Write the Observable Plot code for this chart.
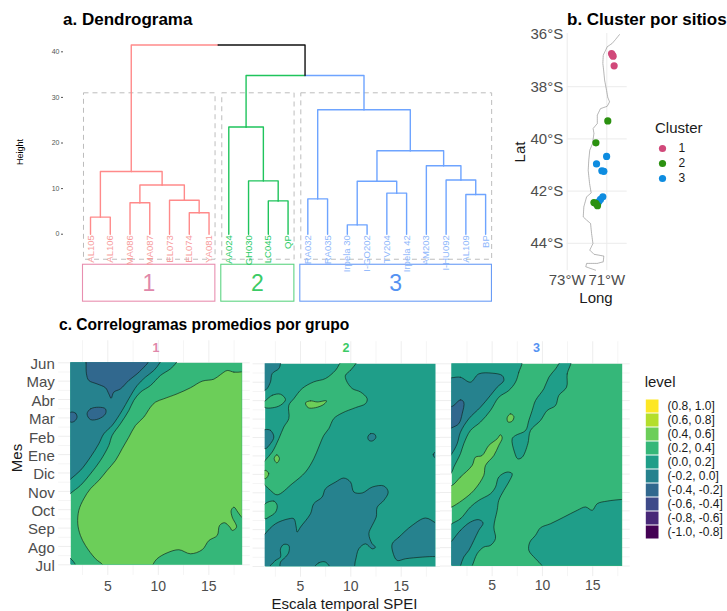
<!DOCTYPE html>
<html>
<head>
<meta charset="utf-8">
<script src="https://cdn.jsdelivr.net/npm/d3@7"></script>
<script src="https://cdn.jsdelivr.net/npm/@observablehq/plot@0.6"></script>
<style>
html,body{margin:0;padding:0;background:#fff}
#root{position:relative;width:727px;height:611px;overflow:hidden;font-family:"Liberation Sans",Arial,sans-serif}
.t{position:absolute;white-space:nowrap;line-height:1}
svg{position:absolute;background:transparent!important}
</style>
</head>
<body>
<div id="root"></div>
<script>
// ---------- Dendrogram data ----------
const leaves = ["AL105","AL106","MA086","MA087","EL073","EL074","YA081","AA024","GH030","LC045","QP","RA032","RA035","Irpela 30","I-GO202","TV204","Irpela 42","AM203","I-HU092","AL109","BP"];
const leafCluster = [1,1,1,1,1,1,1,2,2,2,2,3,3,3,3,3,3,3,3,3,3];
const merges = [
  ["AL105","AL106",3.75,"n1"],["MA086","MA087",6.9,"n2"],["EL074","YA081",4.7,"n3"],
  ["EL073","n3",7.45,"n4"],["n2","n4",10.8,"n5"],["n1","n5",13.75,"n6"],
  ["LC045","QP",7.3,"n7"],["GH030","n7",11.7,"n8"],["AA024","n8",23.5,"n9"],
  ["RA032","RA035",7.75,"n10"],["Irpela 30","I-GO202",2.05,"n11"],["TV204","Irpela 42",9.0,"n12"],
  ["n11","n12",11.6,"n13"],["AL109","BP",8.7,"n14"],["I-HU092","n14",11.9,"n15"],
  ["AM203","n15",15,"n16"],["n13","n16",18.3,"n17"],["n10","n17",27.3,"n18"],
  ["n9","n18",34.8,"n19"],["n6","n19",41.5,"root"]
];
const branchColors = {1:"#ff8a8a",2:"#1fc45c",3:"#6ea4ff",0:"#111111"};
const leafColors = {1:"#f79c9c",2:"#2ccb68",3:"#8fb7fb"};
const boxColors = {1:"#e88fb0",2:"#5ed483",3:"#6a9cf6"};
const numColors = {1:"#e088aa",2:"#3ccb66",3:"#5592f2"};
const clusterIds = ["1","2","3"];
const clusterFirst = ["AL105","AA024","RA032"];
const clusterLast = ["YA081","QP","BP"];

// ---------- Map data ----------
const coastLon = [-70.36,-70.56,-70.73,-70.98,-71.06,-71.18,-71.2,-71.16,-71.11,-71.01,-70.95,-70.86,-70.98,-71.32,-71.48,-71.48,-71.69,-71.65,-71.72,-71.86,-71.91,-71.94,-71.87,-71.79,-72.02,-72.16,-72.19,-72.02,-71.82,-71.77,-71.7,-71.86,-71.65,-71.15,-71.18,-71.48,-72.02,-72.06,-71.57];
const coastLat = [-36,-36.19,-36.34,-36.47,-36.6,-36.79,-37.11,-37.37,-37.75,-38.15,-38.41,-38.58,-38.75,-38.84,-39.09,-39.41,-39.6,-39.79,-40.18,-40.43,-40.81,-41.2,-41.71,-42.07,-42.22,-42.6,-42.99,-43.11,-43.24,-43.62,-44.01,-44.26,-44.42,-44.49,-44.71,-44.77,-44.77,-44.9,-45.03];
const siteLon = [-70.76,-70.72,-70.68,-70.63, -71.01,-71.52,-71.25,-71.15,-71.2,-71.32,-71.4, -70.95,-71.55,-71.65,-71.55,-71.47];
const siteLat = [-36.73,-36.78,-36.83,-37.2, -40.67,-40.96,-41.22,-41.24,-42.22,-42.32,-42.4, -39.31,-40.15,-42.44,-42.47,-42.56];
const siteCluster = [1,1,1,1, 3,3,3,3,3,3,3, 2,2,2,2,2];
const siteColors = {1:"#d1497a",2:"#2b9110",3:"#0e8ce0"};

// ---------- Correlogram data ----------
const months = ["Jul","Ago","Sep","Oct","Nov","Dic","Ene","Feb","Mar","Abr","May","Jun"];
const levelLabels = ["(0.8, 1.0]","(0.6, 0.8]","(0.4, 0.6]","(0.2, 0.4]","(0.0, 0.2]","(-0.2, 0.0]","(-0.4, -0.2]","(-0.6, -0.4]","(-0.8, -0.6]","(-1.0, -0.8]"];
const levelColors = ["#FDE725","#B4DE2C","#6CCE59","#35B779","#1F9E89","#26828E","#31688E","#3E4A89","#482878","#440154"];
const L46 = "#6CCE59", L24 = "#35B779", L02 = "#1F9E89", Ln20 = "#26828E", Ln42 = "#31688E";

const p1Band46 = [[18.3,11.51],[17.48,11.49],[16.82,11.58],[16.16,11.36],[15.5,11.11],[14.34,11],[13.18,10.64],[11.86,10.31],[10.54,10.04],[9.72,9.86],[9.22,9.58],[8.56,9.04],[7.74,8.59],[7.08,7.95],[6.42,7.32],[5.76,6.68],[4.93,6.14],[4.11,5.59],[3.28,5.14],[2.62,4.59],[2.13,3.96],[2.03,3.23],[2.29,2.6],[2.79,2.05],[3.78,1.33],[4.5,1],[4.7,0.7],[9.3,0.7],[9.46,1],[9.88,1.33],[10.87,1.65],[12.03,1.82],[13.18,1.6],[14.34,1.82],[15,2.32],[15.83,2.6],[16.06,3.14],[16.55,3.29],[17.08,3.05],[17.31,2.87],[17.74,3.05],[17.31,3.6],[17.21,3.96],[17.48,4.14],[17.87,3.87],[18.3,3.56],[19,3.3],[19,11.6]];
const p1Band02 = [[12,12.3],[11.77,12],[11.2,11.67],[10.21,11.31],[9.22,10.76],[8.23,10.4],[7.57,9.95],[7.08,9.4],[6.25,8.68],[5.43,8.04],[5.1,7.5],[4.27,6.68],[3.28,5.95],[2.29,5.32],[1.34,4.9],[0.8,4.6],[0.8,12.3]];
const p1Corner = [[0.8,1.5],[1.34,1.33],[1.8,1],[1.9,0.7],[0.8,0.7]];
const p1Bandn20 = [[10.4,12.3],[10.15,12],[9.55,11.58],[8.73,11.22],[7.9,10.76],[7.08,10.04],[6.42,9.4],[5.43,8.59],[4.6,8.13],[4.11,7.59],[3.28,6.86],[2.29,6.14],[1.34,5.68],[0.8,5.4],[0.8,12.3]];
const p1Top = [[2.8,12.3],[2.85,12],[2.89,11.4],[3.12,11.04],[3.94,10.85],[4.77,10.64],[5.1,10.31],[5.33,10.07],[5.59,10.4],[6.25,10.58],[7.08,11.04],[7.9,11.4],[8.73,11.85],[8.96,12],[9.1,12.3]];
const p1Blob = [[2.95,9.22],[3.28,9.49],[4.11,9.58],[4.77,9.49],[4.77,9.22],[4.11,8.95],[3.28,8.91]];
const p1Left = [[1.34,9.31],[1.8,9.26],[1.96,9.04],[1.7,8.82],[1.34,8.77],[0.9,9]];

const p2Main = [[10.63,12.2],[9.97,11.65],[9.47,11.38],[9.54,11.11],[10.13,10.66],[10.96,10.47],[11.62,10.11],[11.46,9.84],[10.46,9.62],[9.14,9.33],[8.31,9.03],[7.81,8.48],[7.32,8.12],[6.82,7.49],[6.32,6.85],[5.5,6.13],[4.17,5.49],[2.68,4.89],[2.02,5.13],[1.49,5.4],[1,5.7],[1,6.4],[1.49,6.76],[2.19,7.21],[2.85,7.94],[3.34,8.57],[3.84,9.03],[3.84,9.75],[4.34,10.11],[5.17,10.66],[6.32,11.02],[7.48,11.2],[8.48,11.65],[9.21,12.2]];
const p2LeftTop = [[1.49,9.99],[2.19,10.29],[3.01,10.35],[3.51,10.06],[3.01,9.75],[2.19,9.61],[1.49,9.62],[1,9.8]];
const p2LeftLow = [[1.49,4.41],[2.35,4.55],[2.68,4.32],[2.52,3.95],[1.85,3.68],[1.49,3.59],[1,3.9]];
const p2CornerTop = [[1,12.3],[3.1,12.3],[3.01,12],[2.85,11.74],[2.19,11.47],[2.02,11.02],[1.69,10.66],[1.49,10.57],[1,10.5]];
const p2LeftMid = [[1.49,8.43],[2.02,8.39],[2.35,8.03],[2.02,7.67],[1.49,7.39],[1,7.6],[1,8.3]];
const p2Spot = [[11.69,8.03],[11.95,8.21],[12.38,8.17],[12.48,7.99],[12.12,7.81],[11.79,7.85]];
const p2Right = [[18.41,7.21],[18.18,7.07],[18.41,6.89],[19,7.05]];
const p2Bright = [[5.5,9.88],[5.99,9.99],[6.66,9.93],[7.58,9.99],[7.32,9.8],[6.49,9.62],[5.76,9.62]];
const p2Oval = [[2.38,6.85],[2.65,7.07],[2.91,6.85],[2.65,6.62]];
const p2Edge = [[1.49,6.22],[1.85,6.04],[1.49,5.76],[1,6]];
const p2Low = [[1,2.4],[1.49,2.78],[2.52,3.32],[3.84,3.59],[4.34,3.59],[4.57,3.14],[4.67,2.87],[5,3.14],[5.99,3.86],[6.32,4.41],[7.15,4.77],[7.48,5.22],[8.48,5.58],[9.3,5.8],[9.97,5.58],[10.3,5.04],[11.13,4.99],[12.12,5.31],[13.28,5.37],[13.71,5.04],[13.28,4.59],[12.62,4.22],[12.52,3.68],[12.12,3.23],[11.79,2.78],[12.12,2.23],[12.45,2.05],[12.12,1.96],[11.46,2.23],[10.79,1.96],[10.46,1.33],[10.13,0.8],[1,0.8]];
const p2Hole1 = [[1.6,0.7],[2.52,1.33],[3.01,1.51],[3.01,1.96],[3.34,2.2],[3.84,2.14],[3.84,1.78],[3.51,1.51],[3.01,1.24],[2.85,0.7]];
const p2Hole2 = [[6.2,0.8],[6.82,1.2],[7.48,1.24],[8,0.8]];
const p2LowRight = [[14.11,2.23],[14.77,2.59],[16.09,3.23],[17.42,3.63],[18.41,3.37],[19,3.2],[19,1.5],[18.41,1.54],[17.09,1.51],[15.43,1.42],[14.6,1.33],[14.17,1.78]];

const p3UpperLeft = [[7.9,12.2],[7.65,11.54],[7.32,11],[6.66,10.55],[5.66,10.18],[4.83,9.46],[3.84,8.83],[2.84,8.37],[2.18,7.65],[1.85,7.11],[1.19,6.38],[0.99,6.11],[0.5,5.8],[0.5,12.3]];
const p3LowerLeft = [[0.99,3.3],[1.85,3.57],[2.84,4.21],[3.67,4.57],[4.83,4.93],[5.33,5.29],[5.66,5.84],[6.49,6.11],[6.99,6.02],[6.66,5.57],[6.16,5.11],[5.66,4.57],[5.5,4.03],[5.17,3.12],[5.33,2.49],[4.83,2.12],[4.17,2.03],[3.51,1.67],[3.01,1],[2.7,0.7],[0.5,0.7],[0.5,3.1]];
const p3LowerDark = [[0.99,2.36],[1.85,2.94],[2.84,3.39],[3.67,3.52],[4.1,3.34],[3.67,2.94],[3.18,2.39],[2.68,1.85],[2.18,1.49],[1.85,1],[1.7,0.7],[0.5,0.7],[0.5,2.1]];
const p3Strip = [[12.85,12.2],[12.46,11.45],[12.4,10.73],[11.63,10.28],[11.3,9.73],[10.47,9.46],[9.81,8.92],[8.81,8.37],[8.55,7.65],[7.99,6.92],[7.55,6.83],[7.22,7.2],[6.99,7.92],[7.32,8.1],[8.32,8.37],[8.65,8.92],[8.98,9.46],[9.31,10],[10.14,10.64],[10.64,11.27],[11.3,11.72],[11.97,12.2]];
const p3BottomRight = [[18.5,4.62],[17.93,4.62],[16.44,4.53],[15.45,4.39],[14.95,4.03],[14.29,4.21],[13.46,4.03],[12.13,3.66],[10.8,3.3],[9.81,3.08],[9.31,2.67],[8.75,2.3],[8.65,1.85],[9.31,1.4],[9.98,1],[10.2,0.7],[18.5,0.7]];
const p3TopDark = [[0.99,11.24],[1.85,11.27],[2.84,11],[3.67,11.45],[5,11.49],[6,11.36],[6.16,11.09],[5.5,10.73],[4.83,10.28],[3.84,9.64],[2.68,9.01],[1.85,8.28],[1.52,7.65],[0.99,7.11],[0.5,6.8],[0.5,11.2]];
const p3Inner = [[0.99,9.68],[1.85,10.04],[2.18,9.91],[2.02,9.28],[1.68,8.74],[0.99,8.52],[0.5,8.4],[0.5,9.8]];
const p3Bright = [[0.99,5.38],[1.85,5.84],[3.01,6.47],[3.34,6.92],[4,7.01],[4.67,7.56],[5.5,7.92],[5.83,8.14],[6,7.97],[5.66,7.56],[5.17,7.01],[4.34,6.47],[4.17,5.93],[3.18,5.11],[2.02,4.57],[0.99,4.21],[0.5,4.1],[0.5,5.4]];
const p3Spot = [[6.49,9.06],[6.82,9.28],[7.16,9.13],[6.99,8.88],[6.59,8.83]];

const panel1Layers = [[p1Band46,L46],[p1Band02,L02],[p1Corner,L02],[p1Bandn20,Ln20],[p1Top,Ln42],[p1Blob,Ln42],[p1Left,Ln42]];
const panel2Layers = [[p2Main,L24],[p2LeftTop,L24],[p2LeftLow,L24],[p2CornerTop,Ln20],[p2LeftMid,Ln20],[p2Spot,Ln20],[p2Right,Ln20],[p2Bright,L46],[p2Oval,L46],[p2Edge,L46],[p2Low,Ln20],[p2Hole1,L02],[p2Hole2,L02],[p2LowRight,Ln20]];
const panel3Layers = [[p3UpperLeft,L02],[p3LowerLeft,L02],[p3LowerDark,Ln20],[p3Strip,L02],[p3BottomRight,L02],[p3TopDark,Ln20],[p3Inner,Ln42],[p3Bright,L46],[p3Spot,L46]];

const xMajor = [5,10,15];
const xMinor = [2.5,7.5,12.5,17.5];
const yMinor = [1.5,2.5,3.5,4.5,5.5,6.5,7.5,8.5,9.5,10.5,11.5];
const yMajor = [1,2,3,4,5,6,7,8,9,10,11,12];

// ---------- Helpers ----------
const root = document.getElementById("root");
const FONT = '"Liberation Sans",Arial,sans-serif';
function place(svg, left, top){ svg.style.left = left+"px"; svg.style.top = top+"px"; root.appendChild(svg); }
function label(text, cx, cy, size, opt={}){
  const d = document.createElement("div");
  d.className = "t"; d.textContent = text;
  d.style.fontSize = size+"px";
  d.style.color = opt.color || "#1a1a1a";
  d.style.fontWeight = opt.bold ? "bold" : "normal";
  if (opt.left) { d.style.left = cx+"px"; d.style.top = (cy-size/2)+"px"; }
  else { d.style.left = cx+"px"; d.style.top = cy+"px"; d.style.transform = `translate(-50%,-50%)${opt.rot?" rotate(-90deg)":""}`; }
  root.appendChild(d);
}
const style = {fontFamily:FONT, background:"transparent"};

// ---------- a. Dendrogram ----------
const nodeX = new Map(leaves.map((d,i)=>[d,i+1]));
const nodeH = new Map(leaves.map(d=>[d,0]));
const nodeC = new Map(leaves.map((d,i)=>[d,leafCluster[i]]));
const elbows = [];
for (const [a,b,h,id] of merges){
  const xm = (nodeX.get(a)+nodeX.get(b))/2;
  for (const child of [a,b]){
    const k = id+"-"+child, c = nodeC.get(child);
    elbows.push({k,c,x:nodeX.get(child),h:nodeH.get(child)},{k,c,x:nodeX.get(child),h},{k,c,x:xm,h});
  }
  nodeX.set(id,xm); nodeH.set(id,h);
  nodeC.set(id, nodeC.get(a)===nodeC.get(b) ? nodeC.get(a) : 0);
}
const leafRows = leaves.map((name,i)=>({name,x:i+1,c:leafCluster[i]}));
const boxes = clusterIds.map((id,i)=>({id,c:+id,a:leaves.indexOf(clusterFirst[i])+1,b:leaves.indexOf(clusterLast[i])+1}));

place(Plot.plot({
  width:510,height:310,marginLeft:63,marginRight:15,marginTop:42.2,marginBottom:7.9,
  style,
  x:{domain:[-0.367,21.5],axis:null},
  y:{domain:[-15,42]},
  color:{type:"identity"},
  marks:[
    Plot.axisY({ticks:[0,10,20,30,40],tickSize:2,tickPadding:2,fontSize:7,color:"#555",label:null}),
    Plot.rect(boxes,{x1:d=>d.a-0.33,x2:d=>d.b+0.33,y1:-5.6,y2:30.9,fill:"none",stroke:"#bdbdbd",strokeDasharray:"5,4",strokeWidth:1}),
    Plot.line(elbows,{x:"x",y:"h",z:"k",stroke:d=>branchColors[d.c],strokeWidth:1.4,curve:"linear"}),
    Plot.rect(boxes,{x1:d=>d.a-0.38,x2:d=>d.b+0.32,y1:-14.8,y2:-6.7,fill:"none",stroke:d=>boxColors[d.c],strokeWidth:1.1}),
    Plot.text(boxes,{x:d=>(d.a+d.b)/2-0.05,y:-10.75,text:"id",fill:d=>numColors[d.c],fontSize:23}),
    Plot.text(leafRows,{x:"x",y:0,text:"name",rotate:-90,textAnchor:"end",dy:1,fontSize:9.5,fill:d=>leafColors[d.c]})
  ]
}),0,0);
label("a. Dendrograma",63,19.5,17,{bold:true,left:true,color:"#000"});
label("Height",20,152,9,{rot:true,color:"#000"});

// ---------- b. Map ----------
const coast = coastLon.map((lon,i)=>({lon,lat:coastLat[i]}));
const sites = siteLon.map((lon,i)=>({lon,lat:siteLat[i],c:siteCluster[i]}));
place(Plot.plot({
  width:140,height:310,marginLeft:56.7,marginRight:23.3,marginTop:33,marginBottom:39.8,
  style,
  x:{domain:[-73,-69.97]},
  y:{domain:[-45.05,-35.96]},
  color:{type:"identity"},
  marks:[
    Plot.gridY({ticks:[-38,-40,-42,-44],stroke:"#ebebeb",strokeOpacity:1,strokeWidth:1}),
    Plot.gridX({ticks:[-73,-71],stroke:"#ebebeb",strokeOpacity:1,strokeWidth:1}),
    Plot.line(coast,{x:"lon",y:"lat",stroke:"#777",strokeWidth:0.5,strokeDasharray:"1.4,0.6"}),
    Plot.dot(sites,{x:"lon",y:"lat",r:3.6,fill:d=>siteColors[d.c]}),
    Plot.axisY({ticks:[-36,-38,-40,-42,-44],tickFormat:d=>`${-d}°S`,tickSize:0,tickPadding:4,fontSize:15,color:"#4d4d4d",label:null}),
    Plot.axisX({ticks:[-73,-71],tickFormat:d=>`${-d}°W`,tickSize:0,tickPadding:4,fontSize:15,color:"#4d4d4d",label:null})
  ]
}),510,0);
label("b. Cluster por sitios",567,19.5,17,{bold:true,left:true,color:"#000"});
label("Lat",518.5,152,15,{rot:true});
label("Long",596,297,15);

// Cluster legend
label("Cluster",655,127,15,{left:true});
place(Plot.plot({
  width:87,height:60,marginLeft:15,marginRight:58,marginTop:17,marginBottom:12,
  style,
  y:{type:"point",domain:clusterIds,padding:0},
  color:{type:"identity"},
  marks:[
    Plot.dot(clusterIds,{y:d=>d,r:3.6,fill:d=>siteColors[d]}),
    Plot.axisY({anchor:"right",tickSize:0,tickPadding:9,fontSize:12,color:"#1a1a1a",label:null})
  ]
}),640,130);

// ---------- c. Correlograms ----------
function facet(layers, base, cfg){
  const [a,b] = cfg.domain;
  const marks = [
    Plot.ruleX(xMinor,{y1:0.42,y2:13.2,stroke:"#f5f5f5",strokeWidth:1}),
    Plot.ruleX(xMajor,{y1:0.42,y2:13.2,stroke:"#eeeeee",strokeWidth:1}),
    Plot.ruleY(yMinor,{x1:a-1.2,x2:b+0.8,stroke:"#f5f5f5",strokeWidth:1}),
    Plot.ruleY(yMajor,{x1:a-1.2,x2:b+0.8,stroke:"#eeeeee",strokeWidth:1}),
    Plot.frame({fill:base,stroke:"none"})
  ];
  for (const [poly,color] of layers){
    marks.push(Plot.line(poly,{x:d=>d[0],y:d=>d[1],fill:color,stroke:"#10201c",strokeWidth:0.65,curve:"catmull-rom-closed",clip:"frame"}));
  }
  marks.push(Plot.axisX({ticks:xMajor,tickSize:0,tickPadding:cfg.pad,fontSize:14,color:"#4d4d4d",label:null}));
  if (cfg.yAxis) marks.push(Plot.axisY({ticks:yMajor,tickFormat:d=>months[d-1],tickSize:0,tickPadding:16,fontSize:15,dy:1.5,color:"#4d4d4d",label:null}));
  place(Plot.plot({
    width:cfg.width,height:281,marginLeft:cfg.ml,marginRight:cfg.mr,marginTop:cfg.mt,marginBottom:cfg.mb,
    style,
    x:{domain:cfg.domain},
    y:{domain:[1,12],axis:cfg.yAxis?undefined:null},
    marks
  }),cfg.left,330);
  label(cfg.strip,cfg.stripX,347.5,12.5,{bold:true,color:numColors[cfg.strip]});
}
facet(panel1Layers,L24,{width:250,left:0,ml:70.3,mr:8.3,mt:32.3,mb:46.7,domain:[1.34,18.3],yAxis:true,strip:"1",stripX:156,pad:16});
facet(panel2Layers,L02,{width:190,left:250,ml:14.67,mr:5,mt:33.3,mb:45,domain:[1.49,18.41],strip:"2",stripX:346,pad:14.5});
facet(panel3Layers,L24,{width:190,left:440,ml:11.3,mr:8.3,mt:33.3,mb:45.5,domain:[0.99,17.93],strip:"3",stripX:536.5,pad:14.5});
label("c. Correlogramas promedios por grupo",59,325,15.6,{bold:true,left:true,color:"#000"});
label("Mes",15.5,458,15,{rot:true});
label("Escala temporal SPEI",344.5,603,15);

// Level legend
label("level",644.7,381.7,15,{left:true});
place(Plot.plot({
  width:127,height:170,marginLeft:45.3,marginRight:68,marginTop:15.6,marginBottom:7,
  style,
  y:{type:"band",domain:levelLabels,padding:0},
  color:{type:"identity"},
  marks:[
    Plot.cell(levelLabels,{y:d=>d,fill:(d,i)=>levelColors[i],inset:0.5}),
    Plot.axisY({anchor:"right",tickSize:0,tickPadding:8,fontSize:12,color:"#1a1a1a",label:null})
  ]
}),600,380);
</script>
</body>
</html>
